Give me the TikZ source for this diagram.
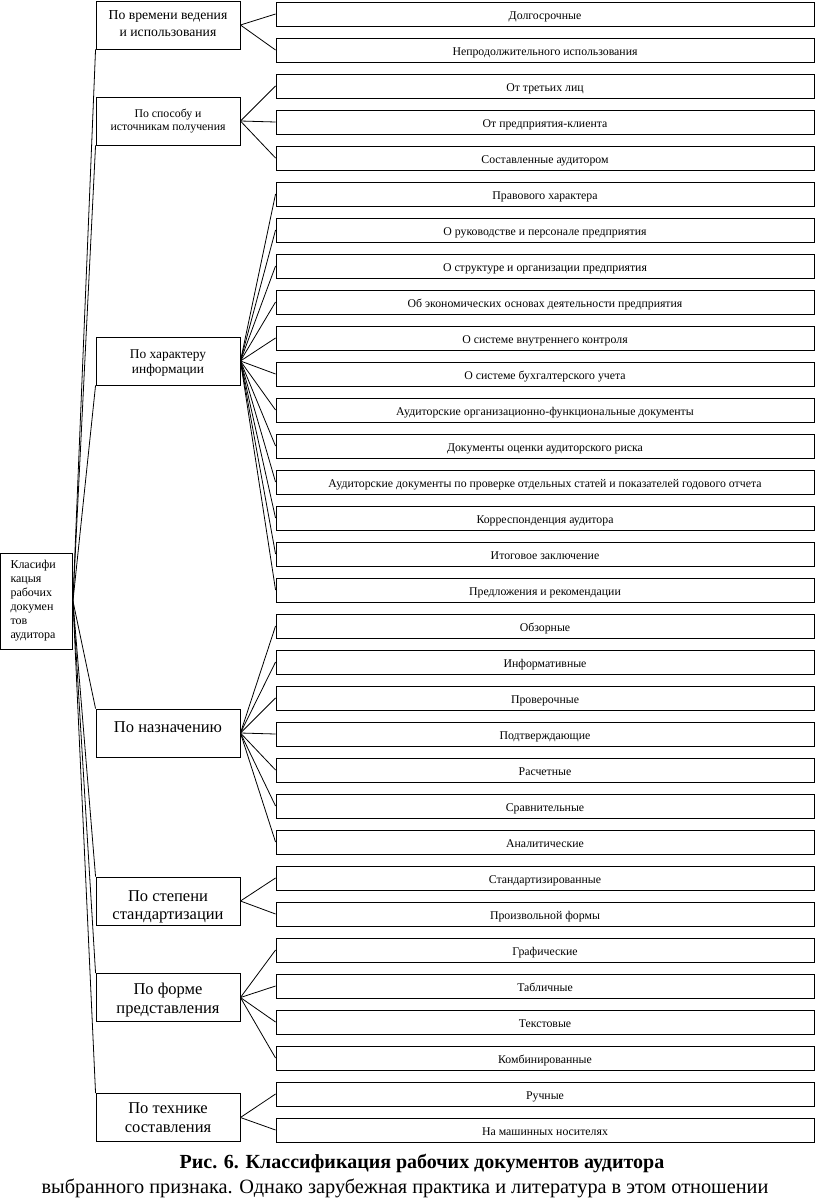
\documentclass[tikz,border=0pt]{standalone}
\usepackage{fontspec}
\setmainfont{Liberation Serif}
\usetikzlibrary{positioning}

\newcommand{\cattext}[2]{\raisebox{#1}[\height][\depth]{\begin{tabular}{@{}c@{}}#2\end{tabular}}}

\tikzset{
	rootbox/.style={
		rectangle, draw=black, line width=0.9pt,
		minimum width=72pt, minimum height=96pt,
		align=left, inner sep=0pt,
		font=\fontsize{12}{14}\selectfont
	},
	catbox/.style={
		rectangle, draw=black, line width=0.9pt,
		minimum width=144pt, minimum height=48pt,
		inner sep=1pt
	},
	leafbox/.style={
		rectangle, draw=black, line width=0.9pt,
		minimum width=538pt, minimum height=24pt,
		text height=11pt, text depth=0pt,
		align=center, inner sep=1pt,
		font=\fontsize{11.8}{13}\selectfont
	},
	link/.style={
		line width=0.8pt, color=black
	}
}

\begin{document}
\begin{tikzpicture}[x=1pt, y=-1pt]
		\useasboundingbox (0,0) rectangle (816,1200);
		
		%% ═══════════════════════════════
		%%  ROOT
		%% ═══════════════════════════════
		\node[rootbox] (root) at (36.5,601)
		{\parbox{52pt}{Класифи\\кацыя\\рабочих\\докумен\\тов\\аудитора}};
		
		%% ═══════════════════════════════
		%%  CATEGORIES
		%% ═══════════════════════════════
		\node[catbox, font=\fontsize{13.7}{17}\selectfont] (time)  at (168,25)
		{\cattext{0pt}{По времени ведения\\и использования}};
		\node[catbox, font=\fontsize{11.8}{13}\selectfont] (src)   at (168,121)
		{\cattext{0pt}{По способу и\\источникам получения}};
		\node[catbox, font=\fontsize{13.4}{15}\selectfont] (info)  at (168,361)
		{\cattext{-2pt}{По характеру\\информации}};
		\node[catbox, font=\fontsize{16.5}{18}\selectfont] (goal)  at (168,733)
		{\cattext{4pt}{По назначению}};
		\node[catbox, font=\fontsize{16.5}{18.5}\selectfont] (std)   at (168,901)
		{\cattext{-6pt}{По степени\\стандартизации}};
		\node[catbox, font=\fontsize{16.5}{18.5}\selectfont] (form)  at (168,997.5)
		{\cattext{-3pt}{По форме\\представления}};
		\node[catbox, font=\fontsize{16.5}{18.5}\selectfont] (tech)  at (168,1117.5)
		{\cattext{-2pt}{По технике\\составления}};
		
		%% ═══════════════════════════════
		%%  LEAVES
		%% ═══════════════════════════════
		% по времени ведения
		\node[leafbox] (t1) at (545,14)   {Долгосрочные};
		\node[leafbox] (t2) at (545,50)   {Непродолжительного использования};
		% по способу получения
		\node[leafbox] (s1) at (545,86)   {От третьих лиц};
		\node[leafbox] (s2) at (545,122)  {От предприятия-клиента};
		\node[leafbox] (s3) at (545,158)  {Составленные аудитором};
		% по характеру информации
		\node[leafbox] (i1)  at (545,194) {Правового характера};
		\node[leafbox] (i2)  at (545,230) {О руководстве и персонале предприятия};
		\node[leafbox] (i3)  at (545,266) {О структуре и организации предприятия};
		\node[leafbox] (i4)  at (545,302) {Об экономических основах деятельности предприятия};
		\node[leafbox] (i5)  at (545,338) {О системе внутреннего контроля};
		\node[leafbox] (i6)  at (545,374) {О системе бухгалтерского учета};
		\node[leafbox] (i7)  at (545,410) {Аудиторские организационно-функциональные документы};
		\node[leafbox] (i8)  at (545,446) {Документы оценки аудиторского риска};
		\node[leafbox] (i9)  at (545,482) {Аудиторские документы по проверке отдельных статей и показателей годового отчета};
		\node[leafbox] (i10) at (545,518) {Корреспонденция аудитора};
		\node[leafbox] (i11) at (545,554) {Итоговое заключение};
		\node[leafbox] (i12) at (545,590) {Предложения и рекомендации};
		% по назначению
		\node[leafbox] (g1) at (545,626)  {Обзорные};
		\node[leafbox] (g2) at (545,662)  {Информативные};
		\node[leafbox] (g3) at (545,698)  {Проверочные};
		\node[leafbox] (g4) at (545,734)  {Подтверждающие};
		\node[leafbox] (g5) at (545,770)  {Расчетные};
		\node[leafbox] (g6) at (545,806)  {Сравнительные};
		\node[leafbox] (g7) at (545,842)  {Аналитические};
		% по степени стандартизации
		\node[leafbox] (d1) at (545,878)  {Стандартизированные};
		\node[leafbox] (d2) at (545,914)  {Произвольной формы};
		% по форме представления
		\node[leafbox] (f1) at (545,950)  {Графические};
		\node[leafbox] (f2) at (545,986)  {Табличные};
		\node[leafbox] (f3) at (545,1022) {Текстовые};
		\node[leafbox] (f4) at (545,1058) {Комбинированные};
		% по технике составления
		\node[leafbox] (e1) at (545,1094) {Ручные};
		\node[leafbox] (e2) at (545,1130) {На машинных носителях};
		
		%% ═══════════════════════════════
		%%  CAPTION
		%% ═══════════════════════════════
		\node[font=\fontsize{20}{22}\selectfont\bfseries] (cap) at (422,1163)
		{Рис. 6. Классификация рабочих документов аудитора};
		\node[font=\fontsize{20.3}{22}\selectfont] (body) at (405,1188)
		{выбранного признака. Однако зарубежная практика и литература в этом отношении};
		
		%% ═══════════════════════════════
		%%  LINKS
		%% ═══════════════════════════════
		
		% Root → Categories
		\draw[link] (root.east) -- (time.south west);
		\draw[link] (root.east) -- (src.south west);
		\draw[link] (root.east) -- (info.south west);
		\draw[link] (root.east) -- (goal.north west);
		\draw[link] (root.east) -- (std.north west);
		\draw[link] (root.east) -- (form.north west);
		\draw[link] (root.east) -- (tech.north west);
		
		% Categories → Leaves
		\foreach \i in {t1,t2} \draw[link] (time.east) -- (\i.west);
		\foreach \i in {s1,s2,s3} \draw[link] (src.east) -- (\i.west);
		\foreach \i in {i1,i2,i3,i4,i5,i6,i7,i8,i9,i10,i11,i12} \draw[link] (info.east) -- (\i.west);
		\foreach \i in {g1,g2,g3,g4,g5,g6,g7} \draw[link] (goal.east) -- (\i.west);
		\foreach \i in {d1,d2} \draw[link] (std.east) -- (\i.west);
		\foreach \i in {f1,f2,f3,f4} \draw[link] (form.east) -- (\i.west);
		\foreach \i in {e1,e2} \draw[link] (tech.east) -- (\i.west);
	\end{tikzpicture}
\end{document}
